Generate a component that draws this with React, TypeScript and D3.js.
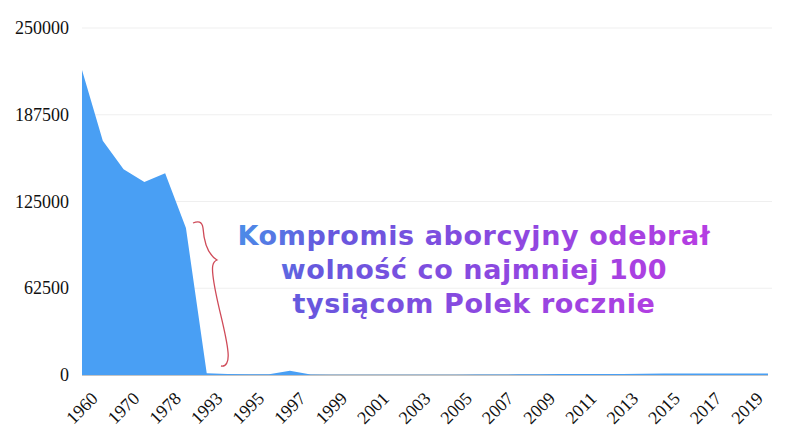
import { useEffect, useRef } from 'react';
import * as d3 from 'd3';

const years = [
  '1960', '1965', '1970', '1975', '1978', '1988',
  '1993', '1994', '1995', '1996', '1997', '1998', '1999', '2000', '2001',
  '2002', '2003', '2004', '2005', '2006', '2007', '2008', '2009', '2010',
  '2011', '2012', '2013', '2014', '2015', '2016', '2017', '2018', '2019', '2020',
];
const abortions = [
  219700, 168800, 148200, 139000, 145300, 105900,
  1240, 782, 559, 505, 3047, 310, 151, 138, 124,
  159, 174, 193, 225, 340, 326, 499, 538, 641,
  669, 752, 744, 977, 1040, 1098, 1057, 1076, 1110, 1076,
];
const yTicks = [0, 62500, 125000, 187500, 250000];
const noteLines = [
  'Kompromis aborcyjny odebrał',
  'wolność co najmniej 100',
  'tysiącom Polek rocznie',
];

const W = 800;
const H = 441;

export default function App() {
  const ref = useRef<SVGSVGElement>(null);

  useEffect(() => {
    const svg = d3.select(ref.current);
    svg.selectAll('*').remove();

    const left = 82;
    const right = 768;
    const top = 28;
    const bottom = 375;

    const x = d3.scalePoint<string>().domain(years).range([left, right]);
    const y = d3.scaleLinear().domain([0, 250000]).range([bottom, top]);

    const defs = svg.append('defs');
    const grad = defs
      .append('linearGradient')
      .attr('id', 'noteGrad')
      .attr('gradientUnits', 'userSpaceOnUse')
      .attr('x1', 240)
      .attr('y1', 220)
      .attr('x2', 640)
      .attr('y2', 380);
    grad.append('stop').attr('offset', '0%').attr('stop-color', '#4a8ee8');
    grad.append('stop').attr('offset', '20%').attr('stop-color', '#6658de');
    grad.append('stop').attr('offset', '60%').attr('stop-color', '#8c48e0');
    grad.append('stop').attr('offset', '100%').attr('stop-color', '#b43ee2');

    // grid
    svg
      .append('g')
      .selectAll('line')
      .data(yTicks.filter(d => d > 0))
      .enter()
      .append('line')
      .attr('x1', left)
      .attr('x2', 772)
      .attr('y1', d => y(d))
      .attr('y2', d => y(d))
      .attr('stroke', '#efefef')
      .attr('stroke-width', 1);

    // baseline
    svg
      .append('line')
      .attr('x1', left)
      .attr('x2', right)
      .attr('y1', bottom)
      .attr('y2', bottom)
      .attr('stroke', '#8a8a8a')
      .attr('stroke-width', 1);

    const area = d3
      .area<number>()
      .x((d, i) => x(years[i]) as number)
      .y0(bottom)
      .y1(d => y(d));

    svg
      .append('path')
      .datum(abortions)
      .attr('d', area)
      .attr('fill', '#499ff4');

    // y labels
    svg
      .append('g')
      .selectAll('text')
      .data(yTicks)
      .enter()
      .append('text')
      .attr('x', 69)
      .attr('y', d => y(d) + 6)
      .attr('text-anchor', 'end')
      .style('font-family', '"Liberation Serif", serif')
      .style('font-size', '18px')
      .attr('fill', '#111')
      .text(d => d);

    // x labels, every other category
    svg
      .append('g')
      .selectAll('text')
      .data(years.filter((d, i) => i % 2 === 0))
      .enter()
      .append('text')
      .attr('transform', d => `translate(${x(d)}, 408) rotate(-45)`)
      .attr('text-anchor', 'middle')
      .attr('dominant-baseline', 'central')
      .style('font-family', '"Liberation Serif", serif')
      .style('font-size', '18px')
      .attr('fill', '#111')
      .text(d => d);

    // brace
    svg
      .append('path')
      .attr(
        'd',
        'M193,223 C198,221 202,221 203,228 C204,242 207,254 217,260 C212,262 212,268 213,276 C216,302 226,330 228,352 C229,362 226,367 221,366'
      )
      .attr('fill', 'none')
      .attr('stroke', '#cf4a58')
      .attr('stroke-width', 1.3);

    // note
    svg
      .append('g')
      .selectAll('text')
      .data(noteLines)
      .enter()
      .append('text')
      .attr('x', 474)
      .attr('y', (d, i) => 245 + i * 34)
      .attr('text-anchor', 'middle')
      .style('font-family', '"DejaVu Sans", sans-serif')
      .style('font-weight', '700')
      .style('font-size', '27px')
      .style('letter-spacing', '0.6px')
      .attr('fill', 'url(#noteGrad)')
      .text(d => d);
  }, []);

  return (
    <svg
      ref={ref}
      width={W}
      height={H}
      style={{ position: 'absolute', left: 0, top: 0, background: '#fff' }}
    />
  );
}
